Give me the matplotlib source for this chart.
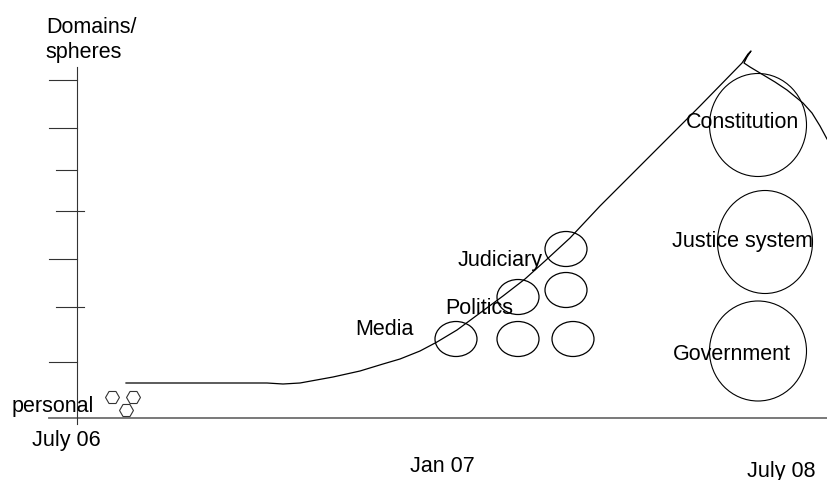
import matplotlib
matplotlib.use("Agg")
import matplotlib.pyplot as plt
from matplotlib.patches import Ellipse

plt.rcParams['font.family'] = ['Liberation Sans', 'DejaVu Sans']

# canvas coordinates (x to the right, y downwards)
W, H = 827, 481

# growth curve: flat start, rising, small loop at the top, falling away
curve_x = [126, 200, 267, 283, 300, 333, 360, 383, 400, 420, 437, 457, 480,
           503, 525, 545, 570, 600, 650, 700, 742, 748, 751, 747, 744,
           750, 760, 775, 787, 803, 812, 820, 827]
curve_y = [384, 384, 384, 385, 384, 378, 372, 365, 360, 352, 343, 331, 314,
           297, 280, 262, 239, 207, 157, 107, 64, 55, 52, 58, 64,
           68, 74, 83, 91, 104, 114, 127, 140]

# y-axis ticks: (y, left end, right end)
tick_y = [81, 129, 171, 212, 260, 308, 363]
tick_x0 = [49, 49, 56, 56, 49, 56, 49]
tick_x1 = [77, 77, 77, 84, 77, 84, 77]

# small ellipses (media / politics / judiciary cluster)
small_cx = [456, 518, 573, 518, 566, 566]
small_cy = [340, 340, 340, 298, 291, 250]
small_w = 42
small_h = 35

# big circles on the right
big_cx = [758, 765, 758]
big_cy = [126, 243, 352]
big_w = [97, 95, 97]
big_h = [103, 103, 100]

# hexagons near the origin ("personal")
hex_x = [112, 133, 126]
hex_y = [398, 398, 411]

# labels: text, left x, baseline y
labels = ["personal", "July 06", "Jan 07", "July 08", "Media", "Politics",
          "Judiciary", "Constitution", "Justice system", "Government",
          "Domains/", "spheres"]
label_x = [12, 32, 410, 747, 355, 445, 458, 686, 672, 673, 46, 45]
label_y = [412, 446, 472, 477, 335, 314, 266, 128, 247, 360, 33, 58]

fig = plt.figure(figsize=(W / 100, H / 100), dpi=100)
ax = fig.add_axes([0, 0, 1, 1])
ax.set_xlim(0, W)
ax.set_ylim(H, 0)
ax.axis('off')

# axes drawn by hand
ax.plot([49, W], [419, 419], color='#6e6e6e', lw=1.3)
ax.plot([77, 77], [68, 425], color='#333333', lw=0.8)
for y, x0, x1 in zip(tick_y, tick_x0, tick_x1):
    ax.plot([x0, x1], [y, y], color='#333333', lw=0.8)

ax.plot(curve_x, curve_y, color='black', lw=0.9)

for cx, cy in zip(small_cx, small_cy):
    ax.add_patch(Ellipse((cx, cy), small_w, small_h, fill=False,
                         edgecolor='black', lw=0.9))

for cx, cy, w, h in zip(big_cx, big_cy, big_w, big_h):
    ax.add_patch(Ellipse((cx, cy), w, h, fill=False,
                         edgecolor='black', lw=0.8))

ax.plot(hex_x, hex_y, linestyle='none', marker='H', markersize=10,
        markerfacecolor='none', markeredgecolor='#333333', markeredgewidth=0.8)

for t, x, y in zip(labels, label_x, label_y):
    ax.text(x, y, t, fontsize=15.5, ha='left', va='baseline', color='black')

fig.savefig('out.png', dpi=100)
